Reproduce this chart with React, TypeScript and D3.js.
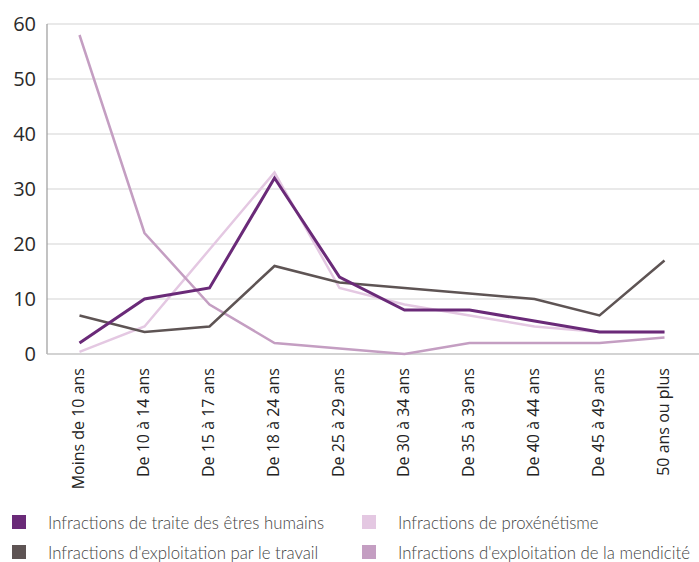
import React from "react";
import * as d3 from "d3";

const categories = [
  "Moins de 10 ans",
  "De 10 à 14 ans",
  "De 15 à 17 ans",
  "De 18 à 24 ans",
  "De 25 à 29 ans",
  "De 30 à 34 ans",
  "De 35 à 39 ans",
  "De 40 à 44 ans",
  "De 45 à 49 ans",
  "50 ans ou plus",
];

const traite = [2, 10, 12, 32, 14, 8, 8, 6, 4, 4];
const travail = [7, 4, 5, 16, 13, 12, 11, 10, 7, 17];
const proxenetisme = [0.4, 5, 19, 33, 12, 9, 7, 5, 4, 4];
const mendicite = [58, 22, 9, 2, 1, 0, 2, 2, 2, 3];

const yTicks = [0, 10, 20, 30, 40, 50, 60];

const seriesNames = [
  "Infractions de traite des êtres humains",
  "Infractions d'exploitation par le travail",
  "Infractions de proxénétisme",
  "Infractions d'exploitation de la mendicité",
];

const W = 699;
const H = 562;

export default function App() {
  const x = d3.scalePoint<string>().domain(categories).range([47, 697]).padding(0.5);
  const y = d3.scaleLinear().domain([0, 60]).range([354, 24]);

  const series = [
    { name: seriesNames[2], values: proxenetisme, color: "#e4c8e2", width: 2.5 },
    { name: seriesNames[3], values: mendicite, color: "#c49ec2", width: 2.5 },
    { name: seriesNames[1], values: travail, color: "#5e5454", width: 2.5 },
    { name: seriesNames[0], values: traite, color: "#6a2a78", width: 3 },
  ];

  const line = d3
    .line<number>()
    .x((_, i) => x(categories[i]) as number)
    .y((d) => y(d));

  const legend = [
    { name: seriesNames[0], color: "#6a2a78", lx: 12, ly: 515 },
    { name: seriesNames[2], color: "#e4c8e2", lx: 362, ly: 515 },
    { name: seriesNames[1], color: "#5e5454", lx: 12, ly: 545 },
    { name: seriesNames[3], color: "#c49ec2", lx: 362, ly: 545 },
  ];

  return (
    <svg
      width={W}
      height={H}
      style={{ position: "absolute", left: 0, top: 0, background: "#fff" }}
    >
      {yTicks.map((t) => (
        <g key={t}>
          <line x1={47} x2={699} y1={y(t)} y2={y(t)} stroke="#d4d4d4" strokeWidth={1.2} />
          <text
            x={36}
            y={y(t) + 7}
            textAnchor="end"
            fontFamily="Open Sans"
            fontSize={20}
            fill="#2a2a2a"
          >
            {t}
          </text>
        </g>
      ))}
      <line x1={47} x2={47} y1={24} y2={354} stroke="#9a9a9a" strokeWidth={1.2} />
      <line x1={47} x2={699} y1={354} y2={354} stroke="#bdbdbd" strokeWidth={1.2} />

      {series.map((s) => (
        <path
          key={s.name}
          d={line(s.values) || ""}
          fill="none"
          stroke={s.color}
          strokeWidth={s.width}
          strokeLinejoin="miter"
        />
      ))}

      {categories.map((c) => (
        <text
          key={c}
          transform={`translate(${(x(c) as number) + 4.5},368) rotate(-90)`}
          textAnchor="end"
          fontFamily="Open Sans"
          fontSize={16}
          fill="#222"
        >
          {c}
        </text>
      ))}

      {legend.map((l) => (
        <g key={l.name}>
          <rect x={l.lx} y={l.ly} width={14} height={14} fill={l.color} />
          <text
            x={l.lx + 36}
            y={l.ly + 14}
            fontFamily="Lato"
            fontWeight={300}
            fontSize={16.8}
            fill="#444"
          >
            {l.name}
          </text>
        </g>
      ))}
    </svg>
  );
}
